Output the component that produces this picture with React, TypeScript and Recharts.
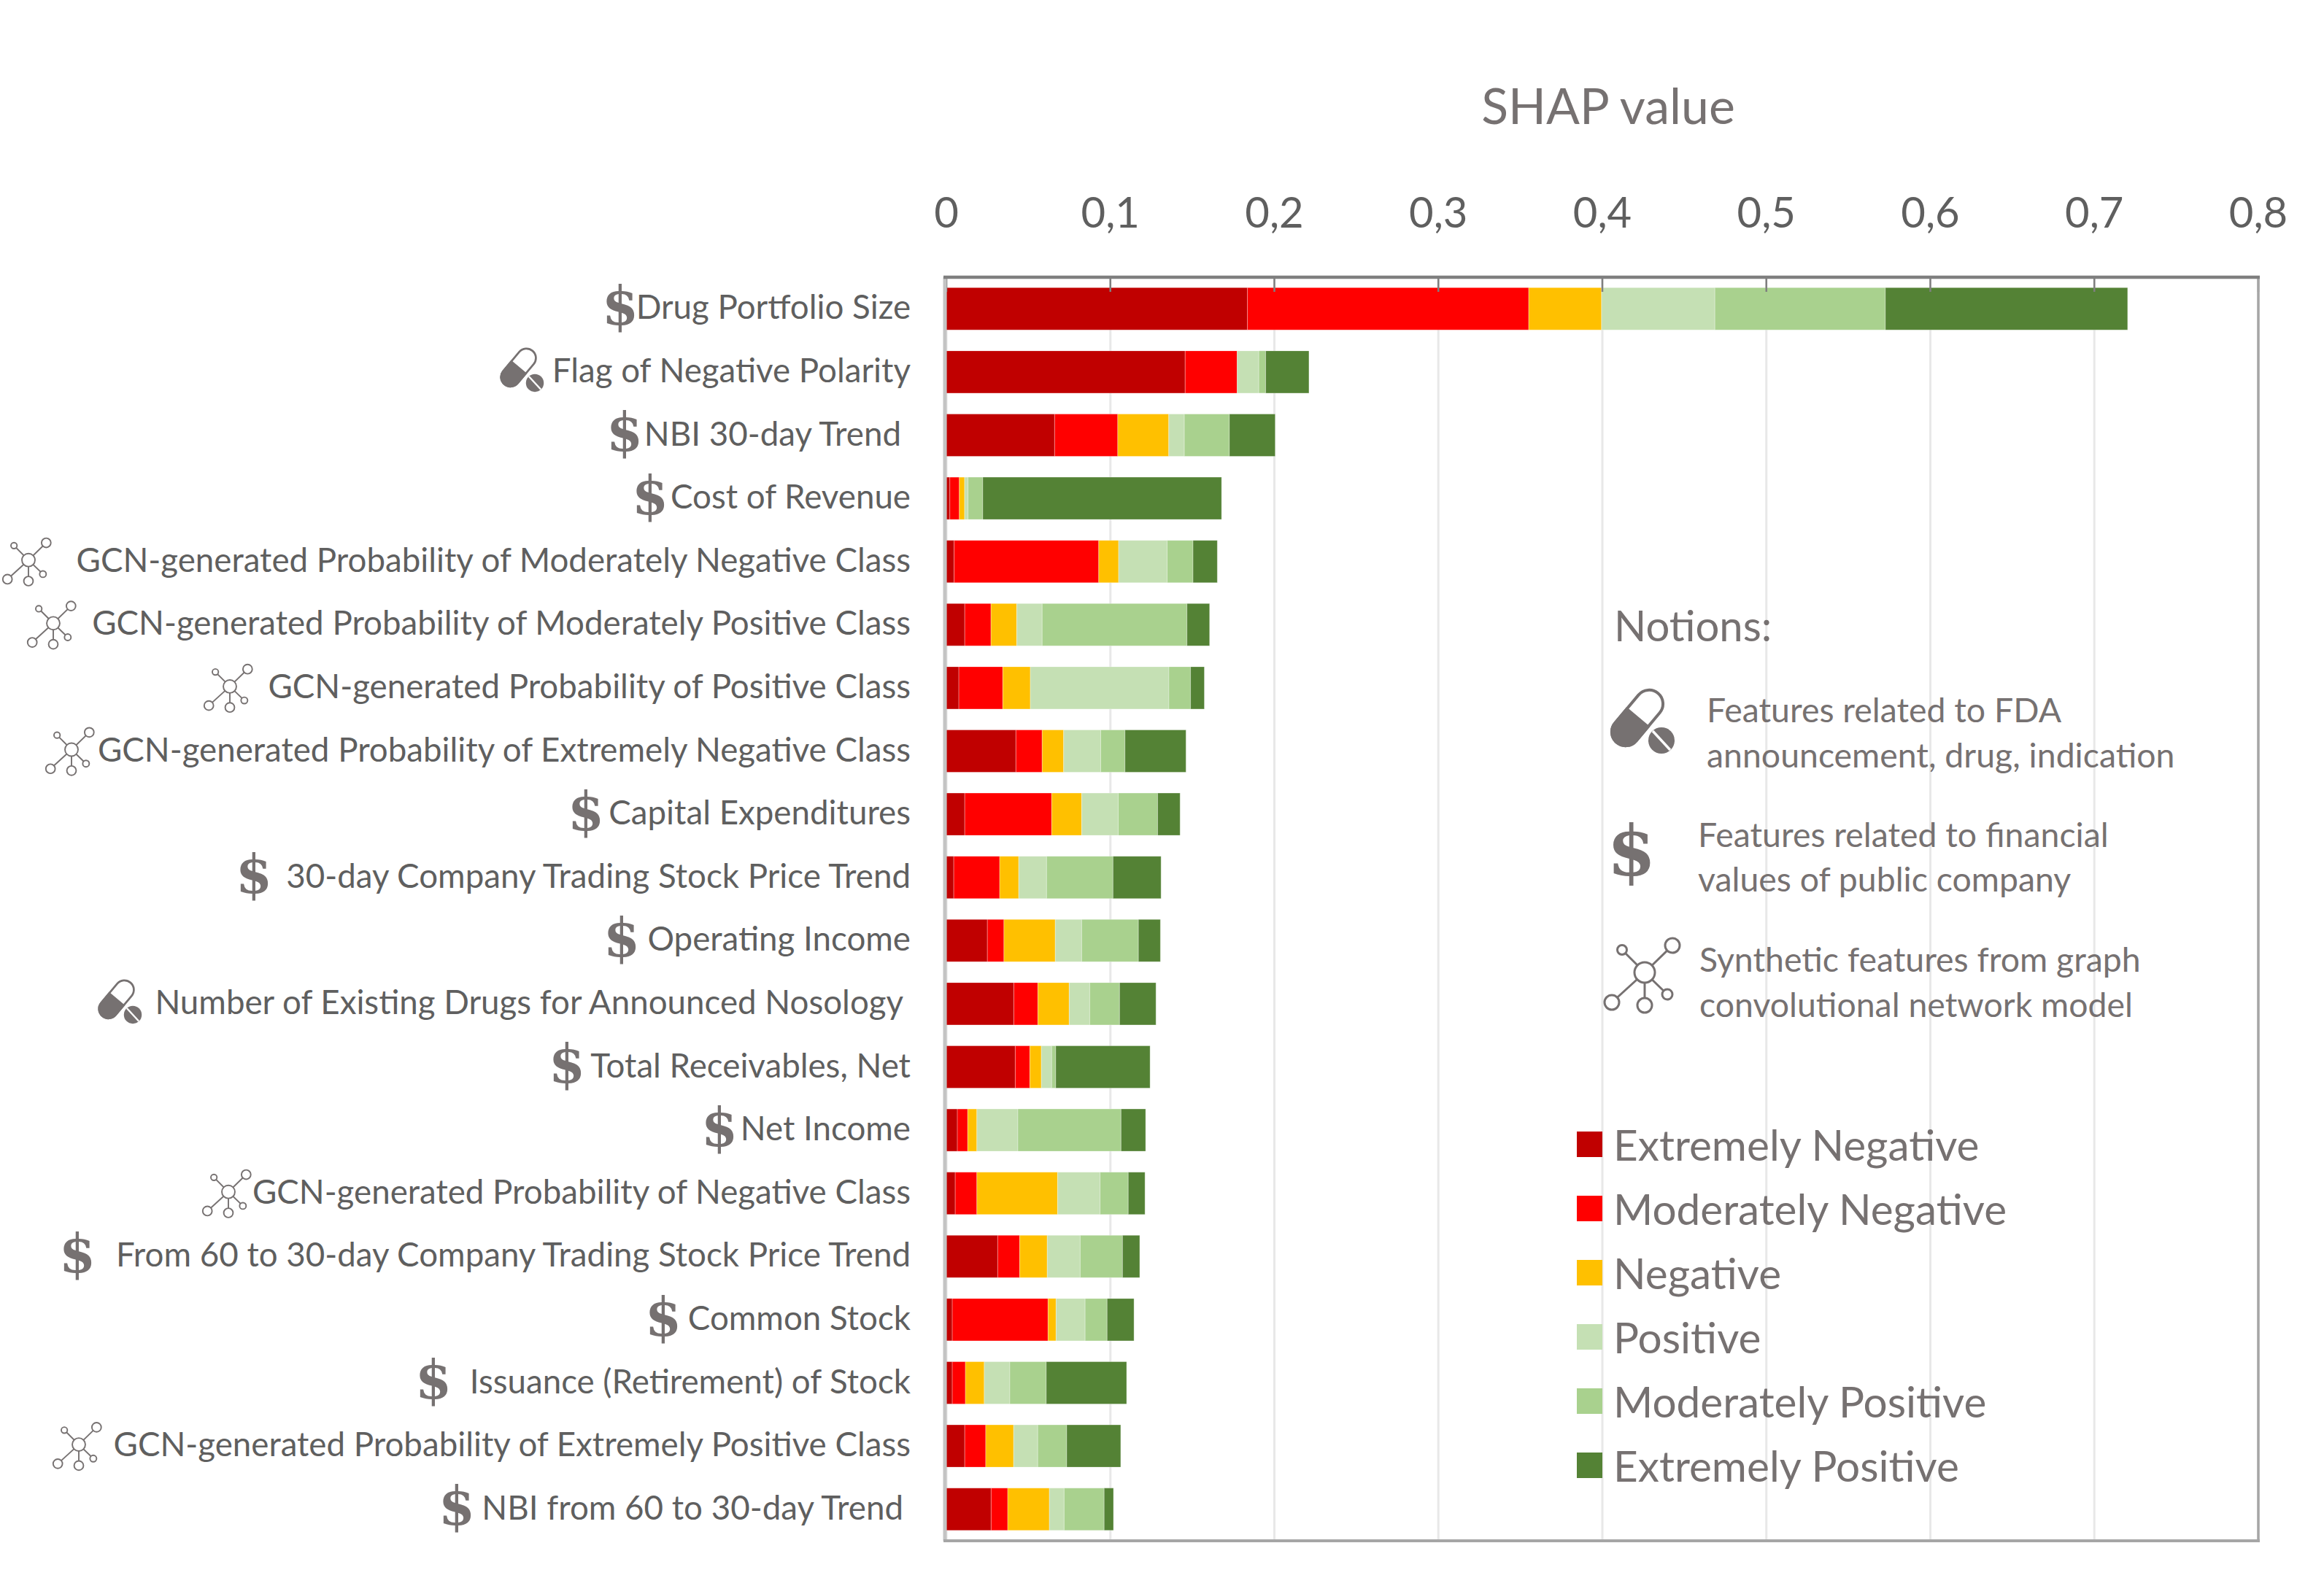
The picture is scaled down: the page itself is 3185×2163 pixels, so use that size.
import * as React from "react"
import { Bar, BarChart, CartesianGrid, Legend, XAxis, YAxis } from "recharts"

const features = [
  "Drug Portfolio Size",
  "Flag of Negative Polarity",
  "NBI 30-day Trend",
  "Cost of Revenue",
  "GCN-generated Probability of Moderately Negative Class",
  "GCN-generated Probability of Moderately Positive Class",
  "GCN-generated Probability of Positive Class",
  "GCN-generated Probability of Extremely Negative Class",
  "Capital Expenditures",
  "30-day Company Trading Stock Price Trend",
  "Operating Income",
  "Number of Existing Drugs for Announced Nosology",
  "Total Receivables, Net",
  "Net Income",
  "GCN-generated Probability of Negative Class",
  "From 60 to 30-day Company Trading Stock Price Trend",
  "Common Stock",
  "Issuance (Retirement) of Stock",
  "GCN-generated Probability of Extremely Positive Class",
  "NBI from 60 to 30-day Trend",
]

// d = financial, p = drug, n = gcn
const featureKinds = ["d", "p", "d", "d", "n", "n", "n", "n", "d", "d", "d", "p", "d", "d", "n", "d", "d", "d", "n", "d"]

const extremelyNegative = [0.1836, 0.1456, 0.066, 0.0021, 0.0047, 0.0112, 0.0076, 0.0424, 0.0112, 0.0045, 0.025, 0.0411, 0.042, 0.0067, 0.0054, 0.0313, 0.0036, 0.0036, 0.0112, 0.0273]
const moderatelyNegative = [0.1715, 0.0317, 0.0385, 0.0058, 0.0882, 0.016, 0.0268, 0.016, 0.053, 0.028, 0.0101, 0.0147, 0.0089, 0.0063, 0.0132, 0.0134, 0.0584, 0.008, 0.0128, 0.0101]
const negative = [0.0444, 0, 0.0311, 0.0032, 0.0121, 0.0157, 0.0168, 0.0131, 0.0183, 0.0116, 0.0313, 0.0191, 0.007, 0.0056, 0.0492, 0.0168, 0.0049, 0.0115, 0.017, 0.0254]
const positive = [0.0691, 0.0132, 0.0095, 0.0021, 0.0296, 0.0155, 0.0845, 0.0226, 0.0223, 0.017, 0.0161, 0.0125, 0.0063, 0.025, 0.0259, 0.0201, 0.0177, 0.0156, 0.0147, 0.009]
const moderatelyPositive = [0.104, 0.0042, 0.0275, 0.009, 0.0158, 0.0883, 0.0132, 0.0148, 0.024, 0.0405, 0.0346, 0.0182, 0.0025, 0.0629, 0.0172, 0.0258, 0.0134, 0.0222, 0.0177, 0.0244]
const extremelyPositive = [0.1477, 0.0264, 0.0279, 0.1456, 0.0148, 0.0138, 0.0084, 0.0372, 0.0137, 0.0293, 0.0134, 0.0222, 0.0575, 0.015, 0.0102, 0.0105, 0.0164, 0.049, 0.0329, 0.0057]

const xTicks = [0, 0.1, 0.2, 0.3, 0.4, 0.5, 0.6, 0.7, 0.8]

const seriesList = [
  { name: "Extremely Negative", values: extremelyNegative, color: "#C00000" },
  { name: "Moderately Negative", values: moderatelyNegative, color: "#FF0000" },
  { name: "Negative", values: negative, color: "#FFC000" },
  { name: "Positive", values: positive, color: "#C5E0B4" },
  { name: "Moderately Positive", values: moderatelyPositive, color: "#A9D18E" },
  { name: "Extremely Positive", values: extremelyPositive, color: "#548235" },
]

const chartData = features.map((feature, i) => {
  const row: Record<string, string | number> = { feature }
  seriesList.forEach((s) => {
    row[s.name] = s.values[i]
  })
  return row
})

// layout of the hand placed label icons
const iconCenters = [850, 716, 856, 891, 39, 73, 315, 98, 803, 348, 852, 165, 777, 986, 313, 106, 909, 594, 108, 626]
const labelRight = [1248, 1248, 1235, 1248, 1248, 1248, 1248, 1248, 1248, 1248, 1248, 1238, 1248, 1248, 1248, 1248, 1248, 1248, 1248, 1238]

const FONT = "Lato"
const TEXT = "#5f5f5f"
const ICON = "#767171"
const PLOT_LEFT = 1297
const PLOT_RIGHT = 3095
const PLOT_TOP = 380
const PLOT_BOTTOM = 2112

function DollarIcon({ x, y, size }: { x: number; y: number; size: number }) {
  return (
    <text x={x} y={y + size * 0.33} textAnchor="middle" fontFamily="DejaVu Serif" fontWeight="bold" fontSize={size} fill={ICON}>
      $
    </text>
  )
}

function PillIcon({ x, y, scale }: { x: number; y: number; scale: number }) {
  return (
    <g transform={`translate(${x},${y}) scale(${scale})`}>
      <g transform="translate(-8,-6) rotate(40)">
        <rect x={-19} y={-44} width={38} height={88} rx={19} fill="#fff" stroke={ICON} strokeWidth={4} />
        <path d="M-19,0 H19 V25 A19,19 0 0 1 -19,25 Z" fill={ICON} stroke={ICON} strokeWidth={4} />
      </g>
      <circle cx={25} cy={25} r={18} fill={ICON} />
      <line x1={13} y1={12} x2={37} y2={38} stroke="#fff" strokeWidth={3.5} />
    </g>
  )
}

const networkNodes = [
  [-31, -31, 6.5],
  [38, -37, 10],
  [-45, 41, 10],
  [0, 45, 10],
  [31, 30, 7],
]

function NetworkIcon({ x, y, scale }: { x: number; y: number; scale: number }) {
  return (
    <g transform={`translate(${x},${y}) scale(${scale})`} stroke={ICON} strokeWidth={3} fill="#fff">
      {networkNodes.map(([nx, ny], i) => (
        <line key={i} x1={0} y1={0} x2={nx} y2={ny} />
      ))}
      {networkNodes.map(([nx, ny, r], i) => (
        <circle key={i} cx={nx} cy={ny} r={r} />
      ))}
      <circle cx={0} cy={0} r={14} />
    </g>
  )
}

function FeatureTick(props: any) {
  const { y, payload, index } = props
  const kind = featureKinds[index]
  const cx = iconCenters[index]
  return (
    <g>
      {kind === "d" ? <DollarIcon x={cx} y={y - 2} size={72} /> : null}
      {kind === "p" ? <PillIcon x={cx} y={y - 2} scale={0.68} /> : null}
      {kind === "n" ? <NetworkIcon x={cx} y={y - 2} scale={0.64} /> : null}
      <text x={labelRight[index]} y={y + 14} textAnchor="end" fontFamily={FONT} fontSize={45.7} fill={TEXT}>
        {payload.value}
      </text>
    </g>
  )
}

function ValueTick(props: any) {
  const { x, payload } = props
  return (
    <g>
      <line x1={x} x2={x} y1={PLOT_TOP} y2={PLOT_TOP + 20} stroke="#7f7f7f" strokeWidth={2.5} />
      <text x={x} y={312} textAnchor="middle" fontFamily={FONT} fontSize={58} fill={TEXT}>
        {String(payload.value).replace(".", ",")}
      </text>
    </g>
  )
}

function LegendRows({ payload }: any) {
  return (
    <div>
      {(payload ?? []).map((entry: any) => (
        <div key={entry.value} style={{ display: "flex", alignItems: "center", height: 88 }}>
          <span style={{ width: 35, height: 35, background: entry.color, marginRight: 15 }} />
          <span style={{ fontFamily: FONT, fontSize: 58.5, color: ICON }}>{entry.value}</span>
        </div>
      ))}
    </div>
  )
}

const notionLines = [
  { x: 2339, y: 990, text: "Features related to FDA" },
  { x: 2339, y: 1052, text: "announcement, drug, indication" },
  { x: 2327, y: 1161, text: "Features related to financial" },
  { x: 2327, y: 1222, text: "values of public company" },
  { x: 2329, y: 1332, text: "Synthetic features from graph" },
  { x: 2329, y: 1394, text: "convolutional network model" },
]

export default function App() {
  return (
    <div style={{ position: "absolute", left: 0, top: 0, width: 3185, height: 2163, background: "#fff" }}>
      <BarChart
        width={3185}
        height={2163}
        layout="vertical"
        data={chartData}
        barCategoryGap="16.5%"
        margin={{ top: 0, right: 3185 - PLOT_RIGHT, bottom: 2163 - PLOT_BOTTOM, left: 0 }}
      >
        <CartesianGrid horizontal={false} stroke="#E8E8E8" strokeWidth={3} />
        <XAxis type="number" orientation="top" height={PLOT_TOP} domain={[0, 0.8]} ticks={xTicks} interval={0} tick={<ValueTick />} tickLine={false} axisLine={false} />
        <YAxis type="category" dataKey="feature" width={PLOT_LEFT} interval={0} tick={<FeatureTick />} tickLine={false} axisLine={false} />
        {seriesList.map((s) => (
          <Bar key={s.name} dataKey={s.name} stackId="shap" fill={s.color} stroke="#ffffff" strokeOpacity={0.3} strokeWidth={1} isAnimationActive={false} />
        ))}
        <Legend
          layout="vertical"
          align="center"
          verticalAlign="middle"
          width={800}
          itemSorter={null}
          wrapperStyle={{ left: 2161, top: 1524 }}
          content={<LegendRows />}
        />
      </BarChart>
      <svg width={3185} height={2163} style={{ position: "absolute", left: 0, top: 0, pointerEvents: "none" }}>
        <line x1={PLOT_LEFT - 2} x2={PLOT_LEFT - 2} y1={PLOT_TOP} y2={PLOT_BOTTOM} stroke="#C4C4C4" strokeWidth={5} />
        <line x1={PLOT_RIGHT} x2={PLOT_RIGHT} y1={PLOT_TOP} y2={PLOT_BOTTOM} stroke="#A6A6A6" strokeWidth={3.5} />
        <line x1={PLOT_LEFT - 4} x2={PLOT_RIGHT + 2} y1={PLOT_BOTTOM} y2={PLOT_BOTTOM} stroke="#A6A6A6" strokeWidth={4} />
        <line x1={PLOT_LEFT - 4} x2={PLOT_RIGHT + 2} y1={PLOT_TOP} y2={PLOT_TOP} stroke="#7f7f7f" strokeWidth={4.5} />
        <text x={2204} y={170} textAnchor="middle" fontFamily={FONT} fontSize={68} fill={ICON}>
          SHAP value
        </text>
        <text x={2212} y={879} fontFamily={FONT} fontSize={58} fill={ICON}>
          Notions:
        </text>
        {notionLines.map((l) => (
          <text key={l.text} x={l.x} y={l.y} fontFamily={FONT} fontSize={46.4} fill={ICON}>
            {l.text}
          </text>
        ))}
        <PillIcon x={2252} y={990} scale={1} />
        <DollarIcon x={2236} y={1168} size={96} />
        <NetworkIcon x={2254} y={1333} scale={1} />
      </svg>
    </div>
  )
}
